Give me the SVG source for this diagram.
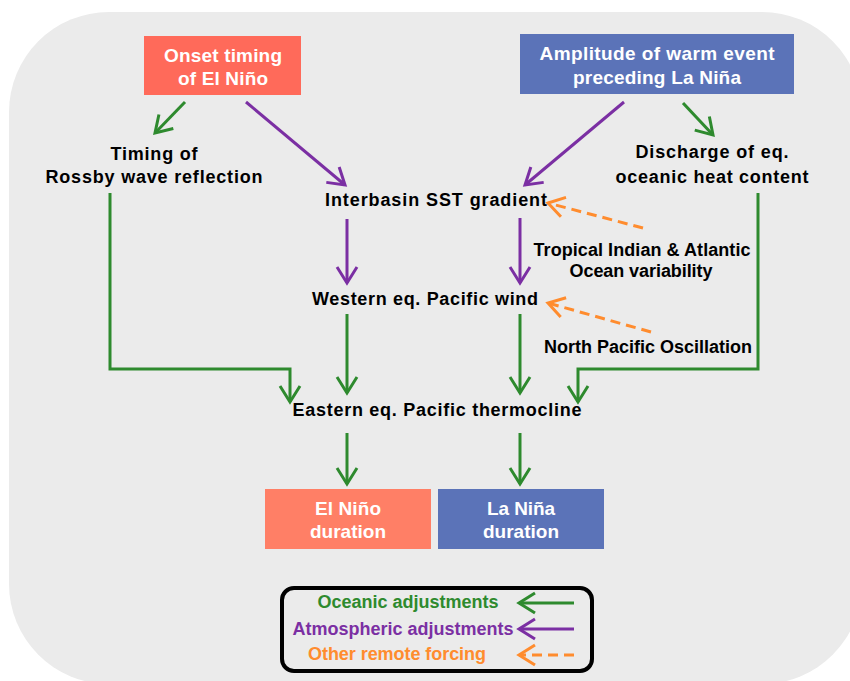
<svg xmlns="http://www.w3.org/2000/svg" width="850" height="681" viewBox="0 0 850 681">
<defs>
<style>
.bg{fill:#ebebeb;}
text{font-family:"Liberation Sans",Arial,sans-serif;font-weight:bold;text-anchor:middle;}
.lbl{font-size:18px;fill:#000;}
.box{font-size:19px;fill:#fff;}
.leg{font-size:18px;}
.g{stroke:#2e8a2e;}
.p{stroke:#7b2fa3;}
.o{stroke:#ff8c2e;stroke-dasharray:10 6;}
.c{fill:none;stroke-width:3;stroke-linejoin:miter;}
</style>
<marker id="ag" markerUnits="userSpaceOnUse" viewBox="-20 -12 24 24" refX="0" refY="0" markerWidth="24" markerHeight="24" orient="auto">
<path d="M-16,-10 L0,0 L-16,10" fill="none" stroke="#2e8a2e" stroke-width="3"/>
</marker>
<marker id="ap" markerUnits="userSpaceOnUse" viewBox="-20 -12 24 24" refX="0" refY="0" markerWidth="24" markerHeight="24" orient="auto">
<path d="M-16,-10 L0,0 L-16,10" fill="none" stroke="#7b2fa3" stroke-width="3"/>
</marker>
<marker id="ao" markerUnits="userSpaceOnUse" viewBox="-20 -12 24 24" refX="0" refY="0" markerWidth="24" markerHeight="24" orient="auto">
<path d="M-16,-10 L0,0 L-16,10" fill="none" stroke="#ff8c2e" stroke-width="3"/>
</marker>
</defs>
<rect class="bg" x="9" y="12" width="853" height="672" rx="100" ry="100"/>

<g id="connectors">
<line class="c g" x1="185" y1="102" x2="155" y2="133" marker-end="url(#ag)"/>
<line class="c p" x1="246" y1="102" x2="345" y2="185" marker-end="url(#ap)"/>
<line class="c p" x1="624" y1="102" x2="525" y2="185" marker-end="url(#ap)"/>
<line class="c g" x1="683" y1="103" x2="713" y2="135" marker-end="url(#ag)"/>
<polyline class="c g" points="110,193 110,369 290,369 290,402" marker-end="url(#ag)"/>
<polyline class="c g" points="758,193 758,369 578,369 578,402" marker-end="url(#ag)"/>
<line class="c p" x1="347" y1="219" x2="347" y2="283" marker-end="url(#ap)"/>
<line class="c p" x1="520" y1="218" x2="520" y2="283" marker-end="url(#ap)"/>
<line class="c g" x1="347" y1="314" x2="347" y2="393" marker-end="url(#ag)"/>
<line class="c g" x1="520" y1="314" x2="520" y2="393" marker-end="url(#ag)"/>
<line class="c g" x1="347" y1="433" x2="347" y2="484" marker-end="url(#ag)"/>
<line class="c g" x1="520" y1="433" x2="520" y2="484" marker-end="url(#ag)"/>
<line class="c o" x1="643" y1="228" x2="548" y2="203" marker-end="url(#ao)"/>
<line class="c o" x1="651" y1="332" x2="548" y2="303" marker-end="url(#ao)"/>
</g>

<g id="onset">
<rect x="144" y="36" width="157" height="59" fill="#ff6a5a"/>
<text class="box" x="223" y="62" textLength="118" lengthAdjust="spacing">Onset timing</text>
<text class="box" x="223" y="85" textLength="90" lengthAdjust="spacing">of El Niño</text>
</g>
<g id="amplitude">
<rect x="520" y="34" width="274" height="60" fill="#5b73b8"/>
<text class="box" x="657" y="60" textLength="235" lengthAdjust="spacing">Amplitude of warm event</text>
<text class="box" x="657" y="84" textLength="168" lengthAdjust="spacing">preceding La Niña</text>
</g>
<g id="rossby">
<text class="lbl" x="154" y="160" textLength="87" lengthAdjust="spacing">Timing of</text>
<text class="lbl" x="154" y="183" textLength="217" lengthAdjust="spacing">Rossby wave reflection</text>
</g>
<g id="discharge">
<text class="lbl" x="712" y="158" textLength="153" lengthAdjust="spacing">Discharge of eq.</text>
<text class="lbl" x="712" y="183" textLength="193" lengthAdjust="spacing">oceanic heat content</text>
</g>
<g id="interbasin">
<text class="lbl" x="436" y="206" textLength="222" lengthAdjust="spacing">Interbasin SST gradient</text>
</g>
<g id="tropical">
<text class="lbl" x="642" y="256" textLength="217" lengthAdjust="spacing">Tropical Indian &amp; Atlantic</text>
<text class="lbl" x="641" y="277" textLength="143" lengthAdjust="spacing">Ocean variability</text>
</g>
<g id="western">
<text class="lbl" x="425" y="305" textLength="226" lengthAdjust="spacing">Western eq. Pacific wind</text>
</g>
<g id="npo">
<text class="lbl" x="648" y="353" textLength="208" lengthAdjust="spacing">North Pacific Oscillation</text>
</g>
<g id="eastern">
<text class="lbl" x="437" y="416" textLength="289" lengthAdjust="spacing">Eastern eq. Pacific thermocline</text>
</g>
<g id="elnino">
<rect x="265" y="489" width="166" height="60" fill="#ff7f66"/>
<text class="box" x="348" y="515" textLength="66" lengthAdjust="spacing">El Niño</text>
<text class="box" x="348" y="538" textLength="76" lengthAdjust="spacing">duration</text>
</g>
<g id="lanina">
<rect x="438" y="489" width="166" height="60" fill="#5b73b8"/>
<text class="box" x="521" y="515" textLength="68" lengthAdjust="spacing">La Niña</text>
<text class="box" x="521" y="538" textLength="76" lengthAdjust="spacing">duration</text>
</g>
<g id="legend">
<rect x="282" y="588" width="310" height="83" rx="12" ry="12" fill="none" stroke="#000" stroke-width="4"/>
<text class="leg" x="408" y="608" fill="#2e8a2e" textLength="181" lengthAdjust="spacing">Oceanic adjustments</text>
<text class="leg" x="403" y="635" fill="#7b2fa3" textLength="221" lengthAdjust="spacing">Atmospheric adjustments</text>
<text class="leg" x="397" y="660" fill="#ff8c2e" textLength="178" lengthAdjust="spacing">Other remote forcing</text>
<line class="c g" x1="574" y1="603" x2="519" y2="603" marker-end="url(#ag)"/>
<line class="c p" x1="574" y1="629" x2="519" y2="629" marker-end="url(#ap)"/>
<line class="c o" x1="574" y1="655" x2="519" y2="655" marker-end="url(#ao)"/>
</g>
</svg>
